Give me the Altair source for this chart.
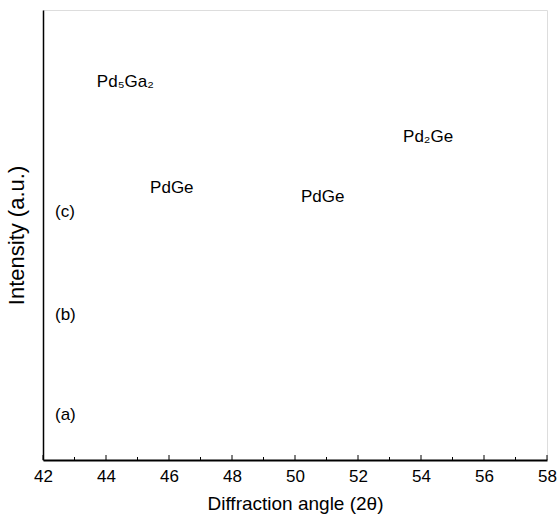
import altair as alt
import pandas as pd

# annotation labels (x in degrees 2θ, y in arbitrary intensity units 0-100)
label_text = ["Pd\u2085Ga\u2082", "PdGe", "PdGe", "Pd\u2082Ge", "(c)", "(b)", "(a)"]
label_x = [43.71, 45.40, 50.19, 53.43, 42.38, 42.38, 42.38]
label_y = [84.0, 60.4, 58.4, 71.8, 55.1, 32.2, 10.0]

major_ticks = [42, 44, 46, 48, 50, 52, 54, 56, 58]
minor_ticks = [43, 45, 47, 49, 51, 53, 55, 57]

labels = pd.DataFrame({"x": label_x, "y": label_y, "t": label_text})
ticks_major = pd.DataFrame({"x": major_ticks})
ticks_minor = pd.DataFrame({"x": minor_ticks})

FONT = "Liberation Sans"
xscale = alt.Scale(domain=[42, 58], nice=False, zero=False)
yscale = alt.Scale(domain=[0, 100], nice=False)

text = alt.Chart(labels).mark_text(
    align="left", baseline="middle", font=FONT, fontSize=17, color="black"
).encode(
    x=alt.X("x:Q", scale=xscale,
            axis=alt.Axis(title="Diffraction angle (2\u03b8)", values=major_ticks,
                          ticks=False, domain=True, domainColor="black", domainWidth=2,
                          labelFont=FONT, labelFontSize=17, labelColor="black",
                          labelPadding=8, titleFont=FONT, titleFontSize=19,
                          titleFontWeight="normal", titleColor="black", titlePadding=10,
                          grid=False, labelFlush=False)),
    y=alt.Y("y:Q", scale=yscale,
            axis=alt.Axis(title="Intensity (a.u.)", labels=False, ticks=False,
                          domain=True, domainColor="black", domainWidth=1.5, grid=False,
                          titleFont=FONT, titleFontSize=22, titleFontWeight="normal",
                          titleColor="black", titlePadding=15)),
    text="t:N",
)

tmaj = alt.Chart(ticks_major).mark_rule(color="black", strokeWidth=1).encode(
    x=alt.X("x:Q", scale=xscale), y=alt.value(450), y2=alt.value(445)
)
tmin = alt.Chart(ticks_minor).mark_rule(color="black", strokeWidth=1).encode(
    x=alt.X("x:Q", scale=xscale), y=alt.value(450), y2=alt.value(447)
)

chart = alt.layer(text, tmaj, tmin).properties(
    width=504, height=450,
    autosize=alt.AutoSizeParams(type="none"),
    padding={"left": 43, "top": 10, "right": 13, "bottom": 57},
).configure_view(stroke="black", strokeWidth=1.5).configure(background="white")

chart.save("out.html", embed_options={"renderer": "svg", "actions": False})
